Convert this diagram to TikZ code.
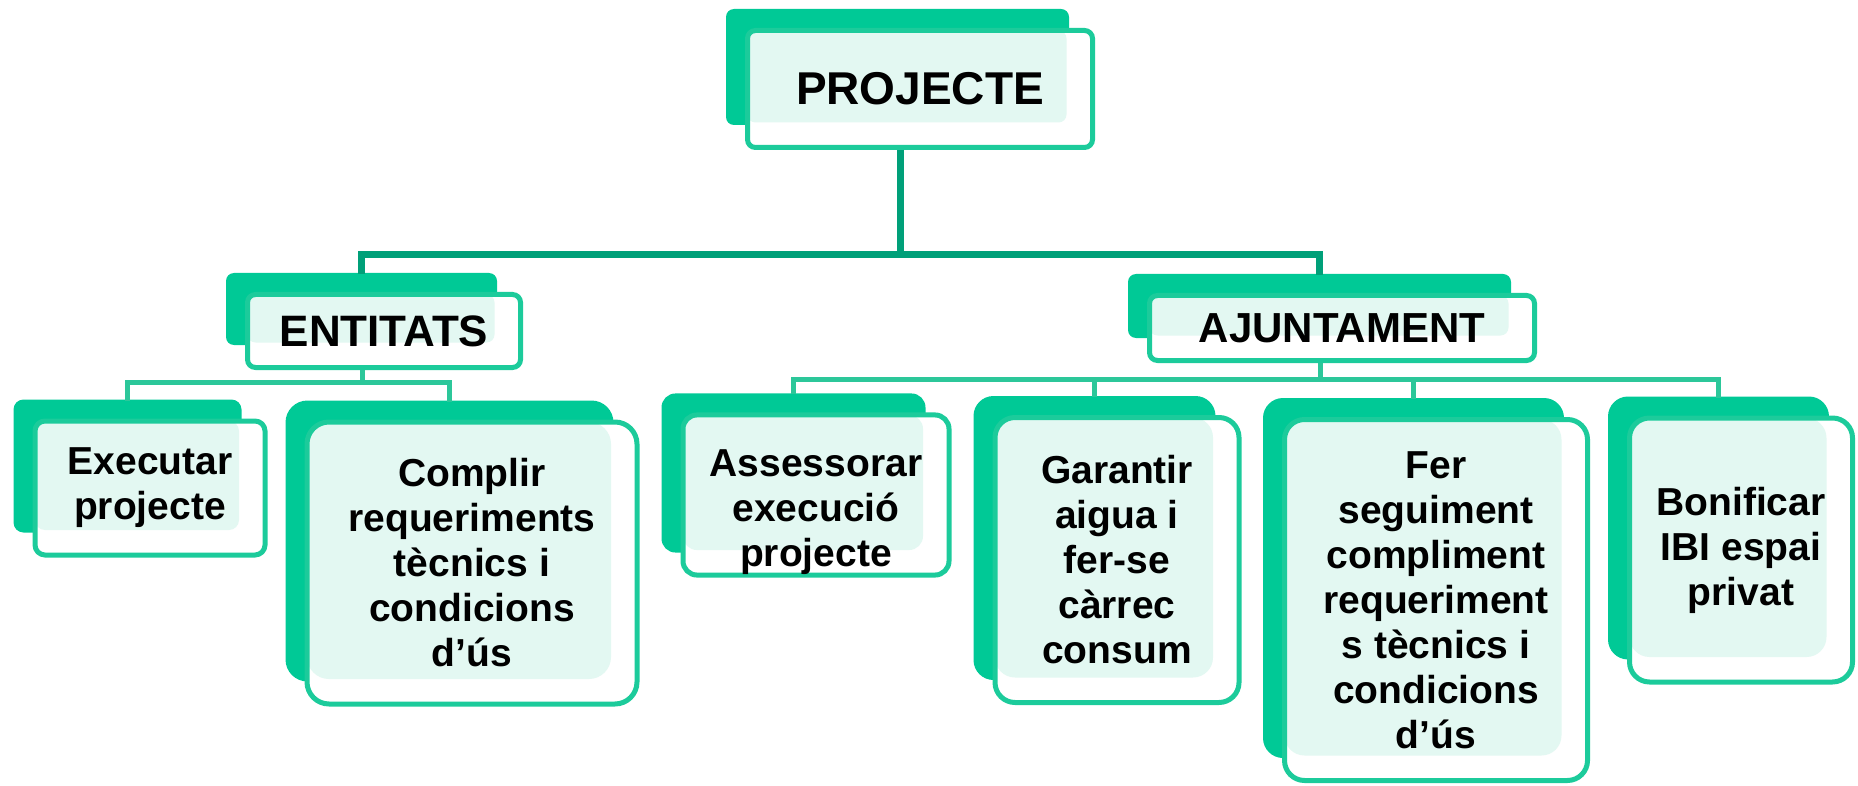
\documentclass[tikz,border=0pt]{standalone}
\usepackage{fontspec}
\setmainfont{Liberation Sans}
\usetikzlibrary{positioning, calc}
\pgfdeclarelayer{background}
\pgfsetlayers{background,main}

\definecolor{backgreen}{HTML}{00C996}
\definecolor{edgegreen}{HTML}{1CCB9B}
\definecolor{mintfill}{HTML}{E3F8F2}
\definecolor{trunkgreen}{HTML}{00A079}
\definecolor{branchgreen}{HTML}{2CC79A}

\begin{document}
\begin{tikzpicture}[x=1pt, y=-1pt,
    box/.style={draw=edgegreen, line width=5pt, fill=white, inner sep=0pt, align=center,
        rounded corners=#1,
        path picture={\fill[mintfill] (path picture bounding box.north west)
            rectangle ([shift={(-26,-25)}]path picture bounding box.south east);}},
    box/.default=12pt,
    headfont/.style={font=\bfseries\fontsize{44}{50}\selectfont},
    taskfont/.style={font=\bfseries\fontsize{39}{45}\selectfont},
    trunk/.style={draw=trunkgreen, line width=7pt},
    branch/.style={draw=branchgreen, line width=5pt}]

\useasboundingbox (0,0) rectangle (1858,786);

% top box
\node[box=8pt, headfont, font=\bfseries\fontsize{46}{50}\selectfont, minimum width=345pt, minimum height=117pt] (proj) at (920,89) {PROJECTE};

% the two parties
\node[box=8pt, headfont, minimum width=273pt, minimum height=73pt] (ent) at (384,331) {ENTITATS};
\node[box=8pt, headfont, font=\bfseries\fontsize{42}{50}\selectfont, minimum width=385pt, minimum height=65pt] (ajt) at (1342,328) {AJUNTAMENT};

% what the entitats do
\node[box=10pt, taskfont, minimum width=230pt, minimum height=134pt] (exe) at (150,488) {Executar\\projecte};
\node[box=22pt, taskfont, minimum width=330pt, minimum height=282pt] (comp) at (472,563) {Complir\\requeriments\\tècnics i\\condicions\\d’ús};

% what the ajuntament does (text of the first one sits a bit low)
\node[box=14pt, taskfont, minimum width=266pt, minimum height=155pt] (ase) at (816,495) {\rule{0pt}{62pt}Assessorar\\execució\\projecte};
\node[box=20pt, taskfont, minimum width=244pt, minimum height=285pt] (gar) at (1117,560) {Garantir\\aigua i\\fer-se\\càrrec\\consum};
\node[box=20pt, taskfont, minimum width=303pt, minimum height=361pt] (seg) at (1436,600) {Fer\\seguiment\\compliment\\requeriment\\s tècnics i\\condicions\\d’ús};
\node[box=20pt, taskfont, minimum width=223pt, minimum height=264pt] (bon) at (1741,550) {Bonificar\\IBI espai\\privat};

% solid green blocks behind each box
\begin{pgfonlayer}{background}
    \foreach \b/\r in {proj/8, ent/8, ajt/8, exe/10, comp/22, ase/14, gar/20, seg/20, bon/20}
        \fill[backgreen, rounded corners=\r pt] ([shift={(-19,-19)}]\b.north west) rectangle ([shift={(-26,-25)}]\b.south east);
\end{pgfonlayer}

% main tree
\draw[trunk] ([xshift=-20pt]proj.south) -- ++(0,105) coordinate (topbar);
\draw[trunk] ([xshift=-23pt, yshift=18pt]ent.north) |- (topbar) -| ([xshift=-23pt, yshift=18pt]ajt.north);

% entitats branch
\draw[branch] ([xshift=-22pt]ent.south) -- ++(0,12) coordinate (entbar);
\draw[branch] ([xshift=-23pt, yshift=18pt]exe.north) |- (entbar) -| ([xshift=-23pt, yshift=18pt]comp.north);

% ajuntament branch
\draw[branch] ([xshift=-22pt]ajt.south) -- ++(0,16) coordinate (ajtbar);
\foreach \k in {ase, gar, seg, bon}
    \draw[branch] ([xshift=-23pt, yshift=18pt]\k.north) |- (ajtbar);

\end{tikzpicture}
\end{document}
